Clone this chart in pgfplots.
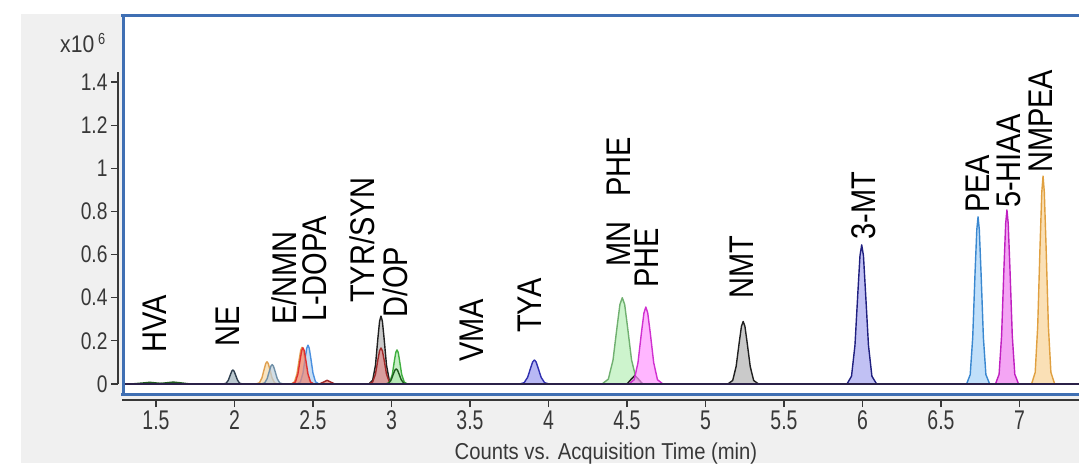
\documentclass[border=0pt]{standalone}
\usepackage{pgfplots}
\pgfplotsset{compat=1.18}
\usepackage{fontspec}
\usepackage{graphicx}
\setmainfont{Liberation Sans}
\newfontfamily\ytfont[FakeStretch=0.8]{Liberation Sans}
\newfontfamily\xtfont[FakeStretch=0.72]{Liberation Sans}
\newfontfamily\ttlfont[FakeStretch=0.88]{Liberation Sans}

\definecolor{bggray}{HTML}{F0F0F0}
\definecolor{frameblue}{HTML}{3F6FB3}
\definecolor{tickgray}{HTML}{383838}
\definecolor{baseline}{HTML}{2B2148}
% peak line / fill colours
\definecolor{slateL}{HTML}{304050}\definecolor{slateF}{HTML}{9FB3BD}
\definecolor{orL}{HTML}{E0A050}\definecolor{orF}{HTML}{F6D9A8}
\definecolor{gbL}{HTML}{7090A8}\definecolor{gbF}{HTML}{C0D0DC}
\definecolor{blL}{HTML}{4A90E0}\definecolor{blF}{HTML}{B0D0F0}
\definecolor{rdL}{HTML}{E03030}\definecolor{rdF}{HTML}{F08878}
\definecolor{dkL}{HTML}{202020}\definecolor{dkF}{HTML}{B4B4B4}
\definecolor{srL}{HTML}{A02828}\definecolor{srF}{HTML}{E08A8A}
\definecolor{gnL}{HTML}{40B040}\definecolor{gnF}{HTML}{B0E8B0}
\definecolor{dgL}{HTML}{1E5A1E}
\definecolor{puL}{HTML}{3030B0}\definecolor{puF}{HTML}{9A9AF0}
\definecolor{lgL}{HTML}{70B070}\definecolor{lgF}{HTML}{B8F0B8}
\definecolor{mgL}{HTML}{D030D0}\definecolor{mgF}{HTML}{FF98FF}
\definecolor{nvL}{HTML}{202080}\definecolor{nvF}{HTML}{A8A8F0}
\definecolor{skL}{HTML}{3A88D0}\definecolor{skF}{HTML}{A8D4F8}
\definecolor{hiL}{HTML}{C020C0}\definecolor{hiF}{HTML}{F080F0}
\definecolor{ngL}{HTML}{E0A040}\definecolor{ngF}{HTML}{F8D498}

\pgfplotsset{pk/.style 2 args={draw=#1, fill=#2, fill opacity=0.7, line width=1.4pt, line join=round}}
\newcommand{\plab}[1]{\scalebox{1}[1.18]{\fontsize{29}{29}\selectfont #1}}

\begin{document}
\begin{tikzpicture}[x=1pt,y=1pt]
\useasboundingbox (0,0) rectangle (1079,467);
\fill[white] (0,0) rectangle (1079,467);
\fill[bggray] (21,4) rectangle (1079,453);
\begin{axis}[
    at={(122pt,72pt)}, anchor=south west,
    scale only axis, width=957pt, height=379pt,
    xmin=1.2834, xmax=7.379, ymin=-0.051, ymax=1.7061,
    axis background/.style={fill=white},
    axis x line*=bottom, axis y line*=left,
    axis x line shift=5pt, axis y line shift=4pt,
    x axis line style={draw=tickgray, line width=1.2pt},
    y axis line style={draw=none},
    xtick={1.5,2,2.5,3,3.5,4,4.5,5,5.5,6,6.5,7},
    ytick={0,0.2,0.4,0.6,0.8,1,1.2,1.4},
    tick align=outside, major tick length=7pt,
    tick style={draw=tickgray, line width=1.2pt},
    /pgf/number format/assume math mode=true,
    xticklabel style={font=\xtfont\fontsize{27}{27}\selectfont, text=tickgray},
    yticklabel style={font=\ytfont\fontsize{24}{24}\selectfont, text=tickgray},
]
% HVA region, tiny bumps
\addplot[pk={dgL}{gbF}] coordinates {(1.34,0)(1.42,0.005)(1.46,0.008)(1.50,0.005)(1.58,0)} \closedcycle;
\addplot[pk={dgL}{gbF}] coordinates {(1.50,0)(1.57,0.006)(1.61,0.009)(1.65,0.006)(1.72,0)} \closedcycle;
% NE
\addplot[pk={slateL}{slateF}] coordinates {(1.927,0)(1.947,0.0036)(1.961,0.018)(1.974,0.0434)(1.983,0.060)(1.99,0.065)(1.997,0.060)(2.006,0.0434)(2.019,0.018)(2.033,0.0036)(2.053,0)} \closedcycle;
% E / NMN
\addplot[pk={orL}{orF}] coordinates {(2.137,0)(2.159,0.0058)(2.175,0.0286)(2.189,0.0687)(2.199,0.0951)(2.207,0.103)(2.215,0.0951)(2.225,0.0687)(2.239,0.0286)(2.255,0.0058)(2.277,0)} \closedcycle;
\addplot[pk={gbL}{gbF}] coordinates {(2.17,0)(2.192,0.005)(2.208,0.025)(2.222,0.060)(2.232,0.083)(2.24,0.09)(2.248,0.083)(2.258,0.060)(2.272,0.025)(2.288,0.005)(2.31,0)} \closedcycle;
% L-DOPA group
\addplot[pk={orL}{orF}] coordinates {(2.36,0)(2.382,0.0095)(2.398,0.0473)(2.412,0.1134)(2.422,0.1569)(2.43,0.17)(2.438,0.1569)(2.448,0.1134)(2.462,0.0473)(2.478,0.0095)(2.50,0)} \closedcycle;
\addplot[pk={blL}{blF}] coordinates {(2.398,0)(2.42,0.0101)(2.436,0.05)(2.45,0.12)(2.46,0.1661)(2.468,0.18)(2.476,0.1661)(2.486,0.12)(2.50,0.05)(2.516,0.0101)(2.538,0)} \closedcycle;
\addplot[pk={rdL}{rdF}] coordinates {(2.366,0)(2.388,0.0094)(2.404,0.0467)(2.418,0.1121)(2.428,0.1551)(2.436,0.168)(2.444,0.1551)(2.454,0.1121)(2.468,0.0467)(2.484,0.0094)(2.506,0)} \closedcycle;
\addplot[pk={srL}{rdF}] coordinates {(2.54,0)(2.57,0.01)(2.59,0.017)(2.61,0.01)(2.64,0)} \closedcycle;
% TYR/SYN
\addplot[pk={dkL}{dkF}] coordinates {(2.856,0)(2.880,0.0176)(2.898,0.0876)(2.913,0.2101)(2.924,0.2907)(2.933,0.315)(2.942,0.2907)(2.953,0.2101)(2.968,0.0876)(2.986,0.0176)(3.010,0)} \closedcycle;
\addplot[pk={srL}{srF}] coordinates {(2.856,0)(2.880,0.0094)(2.898,0.0464)(2.913,0.1114)(2.924,0.1541)(2.933,0.167)(2.942,0.1541)(2.953,0.1114)(2.968,0.0464)(2.986,0.0094)(3.010,0)} \closedcycle;
% D/OP
\addplot[pk={gnL}{gnF}] coordinates {(2.969,0)(2.989,0.0088)(3.005,0.0439)(3.018,0.1054)(3.027,0.1458)(3.035,0.158)(3.043,0.1458)(3.052,0.1054)(3.065,0.0439)(3.081,0.0088)(3.102,0)} \closedcycle;
\addplot[pk={dgL}{gnF}] coordinates {(2.96,0)(2.982,0.0039)(2.998,0.0195)(3.012,0.0467)(3.022,0.0646)(3.03,0.07)(3.038,0.0646)(3.048,0.0467)(3.062,0.0195)(3.078,0.0039)(3.10,0)} \closedcycle;
% TYA
\addplot[pk={puL}{puF}] coordinates {(3.816,0)(3.845,0.0062)(3.867,0.0309)(3.886,0.074)(3.899,0.1025)(3.91,0.111)(3.921,0.1025)(3.934,0.074)(3.953,0.0309)(3.975,0.0062)(4.004,0)} \closedcycle;
% MN, PHE
\addplot[pk={lgL}{lgF}] coordinates {(4.341,0)(4.381,0.0224)(4.411,0.1112)(4.437,0.2668)(4.455,0.3692)(4.47,0.40)(4.485,0.3692)(4.503,0.2668)(4.529,0.1112)(4.559,0.0224)(4.600,0)} \closedcycle;
\addplot[pk={dkL}{dkF}] coordinates {(4.50,0)(4.53,0.025)(4.55,0.04)(4.57,0.025)(4.60,0)} \closedcycle;
\addplot[pk={mgL}{mgF}] coordinates {(4.512,0)(4.546,0.02)(4.570,0.0992)(4.592,0.2381)(4.608,0.3295)(4.62,0.357)(4.632,0.3295)(4.648,0.2381)(4.670,0.0992)(4.694,0.02)(4.729,0)} \closedcycle;
% NMT
\addplot[pk={dkL}{dkF}] coordinates {(5.142,0)(5.173,0.0162)(5.195,0.0806)(5.215,0.1934)(5.229,0.2677)(5.24,0.29)(5.251,0.2677)(5.265,0.1934)(5.285,0.0806)(5.307,0.0162)(5.338,0)} \closedcycle;
% 3-MT
\addplot[pk={nvL}{nvF}] coordinates {(5.901,0)(5.930,0.0361)(5.952,0.1793)(5.971,0.4302)(5.984,0.5953)(5.995,0.645)(6.006,0.5953)(6.019,0.4302)(6.038,0.1793)(6.060,0.0361)(6.090,0)} \closedcycle;
% PEA, 5-HIAA, NMPEA
\addplot[pk={skL}{skF}] coordinates {(6.663,0)(6.686,0.0434)(6.702,0.2155)(6.717,0.5169)(6.728,0.7153)(6.736,0.775)(6.744,0.7153)(6.755,0.5169)(6.770,0.2155)(6.786,0.0434)(6.810,0)} \closedcycle;
\addplot[pk={hiL}{hiF}] coordinates {(6.847,0)(6.870,0.0452)(6.886,0.2243)(6.901,0.5383)(6.912,0.7449)(6.92,0.807)(6.928,0.7449)(6.939,0.5383)(6.954,0.2243)(6.970,0.0452)(6.994,0)} \closedcycle;
\addplot[pk={ngL}{ngF}] coordinates {(7.077,0)(7.100,0.054)(7.116,0.268)(7.131,0.643)(7.142,0.8898)(7.15,0.964)(7.158,0.8898)(7.169,0.643)(7.184,0.268)(7.200,0.054)(7.224,0)} \closedcycle;
% common baseline
\addplot[draw=baseline, line width=1.6pt] coordinates {(1.2834,0)(7.379,0)};

% compound labels
\node[rotate=90, anchor=west, inner sep=0pt] at (axis cs:1.490,0.144) {\plab{HVA}};
\node[rotate=90, anchor=west, inner sep=0pt] at (axis cs:1.955,0.172) {\plab{NE}};
\node[rotate=90, anchor=west, inner sep=0pt] at (axis cs:2.318,0.274) {\plab{E/NMN}};
\node[rotate=90, anchor=west, inner sep=0pt] at (axis cs:2.510,0.287) {\plab{L-DOPA}};
\node[rotate=90, anchor=west, inner sep=0pt] at (axis cs:2.812,0.3755) {\plab{TYR/SYN}};
\node[rotate=90, anchor=west, inner sep=0pt] at (axis cs:3.022,0.306) {\plab{D/OP}};
\node[rotate=90, anchor=west, inner sep=0pt] at (axis cs:3.513,0.102) {\plab{VMA}};
\node[rotate=90, anchor=west, inner sep=0pt] at (axis cs:3.882,0.236) {\plab{TYA}};
\node[rotate=90, anchor=west, inner sep=0pt] at (axis cs:4.446,0.542) {\plab{MN\hspace{25pt}PHE}};
\node[rotate=90, anchor=west, inner sep=0pt] at (axis cs:4.627,0.445) {\plab{PHE}};
\node[rotate=90, anchor=west, inner sep=0pt] at (axis cs:5.232,0.394) {\plab{NMT}};
\node[rotate=90, anchor=west, inner sep=0pt] at (axis cs:6.006,0.668) {\plab{3-MT}};
\node[rotate=90, anchor=west, inner sep=0pt] at (axis cs:6.732,0.793) {\plab{PEA}};
\node[rotate=90, anchor=west, inner sep=0pt] at (axis cs:6.933,0.816) {\plab{5-HIAA}};
\node[rotate=90, anchor=west, inner sep=0pt] at (axis cs:7.137,0.978) {\plab{NMPEA}};
\end{axis}
% frame and left axis line
\draw[frameblue, line width=3.5pt] (121,451.5) -- (1079,451.5);
\draw[frameblue, line width=3pt] (123.5,453) -- (123.5,72);
\draw[frameblue, line width=3.5pt] (121,72.5) -- (1079,72.5);
\draw[tickgray, line width=1.2pt] (118,83) -- (118,395);
\node[anchor=base west, inner sep=0pt, text=tickgray, font=\ttlfont\fontsize{24}{24}\selectfont] at (60,414) {x10};
\node[anchor=base west, inner sep=0pt, text=tickgray, font=\ytfont\fontsize{16}{16}\selectfont] at (98,422) {6};
\node[text=tickgray, font=\ttlfont\fontsize{23}{23}\selectfont] at (606,13) {Counts vs. Acquisition Time (min)};
\end{tikzpicture}
\end{document}
